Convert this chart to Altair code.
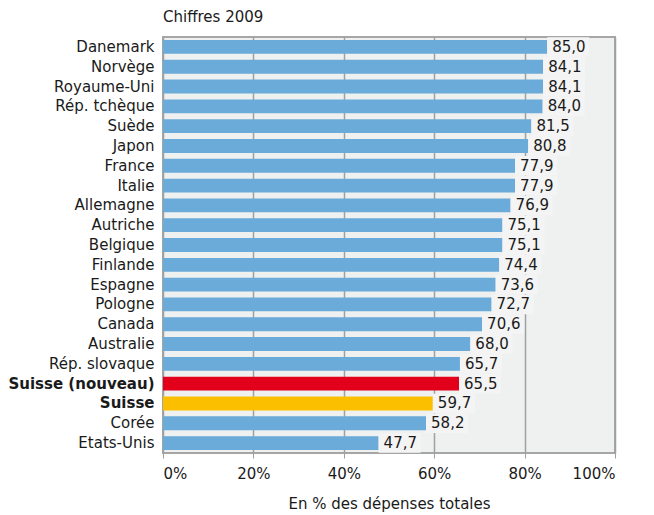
import altair as alt
import pandas as pd

countries = ["Danemark", "Norvège", "Royaume-Uni", "Rép. tchèque", "Suède", "Japon",
             "France", "Italie", "Allemagne", "Autriche", "Belgique", "Finlande",
             "Espagne", "Pologne", "Canada", "Australie", "Rép. slovaque",
             "Suisse (nouveau)", "Suisse", "Corée", "Etats-Unis"]
values = [85.0, 84.1, 84.1, 84.0, 81.5, 80.8, 77.9, 77.9, 76.9, 75.1, 75.1, 74.4,
          73.6, 72.7, 70.6, 68.0, 65.7, 65.5, 59.7, 58.2, 47.7]
groups = ["OCDE"] * 17 + ["nouveau", "suisse"] + ["OCDE"] * 2
x_ticks = [0, 20, 40, 60, 80, 100]

df = pd.DataFrame({"pays": countries, "val": values, "groupe": groups})

FONT = "DejaVu Sans"
FS = 15

y_enc = alt.Y("pays:N", sort=countries, title=None,
              scale=alt.Scale(paddingInner=0.3, paddingOuter=0.15),
              axis=alt.Axis(labelFontSize=FS, labelColor="#1a1a1a", labelFont=FONT,
                            labelPadding=9, ticks=False, domain=False, grid=False,
                            labelFontWeight=alt.expr(
                                "datum.value == 'Suisse' || datum.value == 'Suisse (nouveau)' ? 'bold' : 'normal'")))
x_scale = alt.Scale(domain=[0, 100], nice=False)

base = alt.Chart(df)

bars = base.mark_bar().encode(
    x=alt.X("val:Q", scale=x_scale, title="En % des dépenses totales",
            axis=alt.Axis(values=x_ticks, labelExpr="datum.value + '%'",
                          labelFontSize=FS, labelFont=FONT, labelColor="#1a1a1a",
                          labelPadding=8, tickSize=5, tickColor="#a0a0a0",
                          domain=False, grid=True, gridColor="#a0a0a0", gridWidth=1.5,
                          titleFontSize=FS, titleFont=FONT, titleFontWeight="normal",
                          titleColor="#1a1a1a", titlePadding=15)),
    y=y_enc,
    color=alt.Color("groupe:N", legend=None,
                    scale=alt.Scale(domain=["OCDE", "nouveau", "suisse"],
                                    range=["#6aabd9", "#e2001a", "#fbbf00"])),
)

boxes = base.transform_calculate(end="datum.val + 9.3").mark_bar(
    color="#f4f4f4", height=19.5
).encode(
    x=alt.X("val:Q", scale=x_scale),
    x2="end:Q",
    y=alt.Y("pays:N", sort=countries),
)

labels = base.transform_calculate(
    lab="replace(format(datum.val, '.1f'), '.', ',')"
).mark_text(align="left", dx=5, fontSize=FS, font=FONT, color="#1a1a1a").encode(
    x=alt.X("val:Q", scale=x_scale),
    y=alt.Y("pays:N", sort=countries),
    text="lab:N",
)

chart = alt.layer(bars, boxes, labels).properties(
    width=452, height=416,
    autosize=alt.AutoSizeParams(type="none"),
    padding={"left": 163, "top": 37, "right": 39, "bottom": 62},
    title=alt.TitleParams("Chiffres 2009", anchor="start", frame="group", fontSize=FS,
                          font=FONT, fontWeight="normal", color="#1a1a1a", offset=12),
).configure_view(
    fill="#eff0f0", stroke="#a6a6a6", strokeWidth=2
)

chart.save("out.html", embed_options={"renderer": "svg", "actions": False})
